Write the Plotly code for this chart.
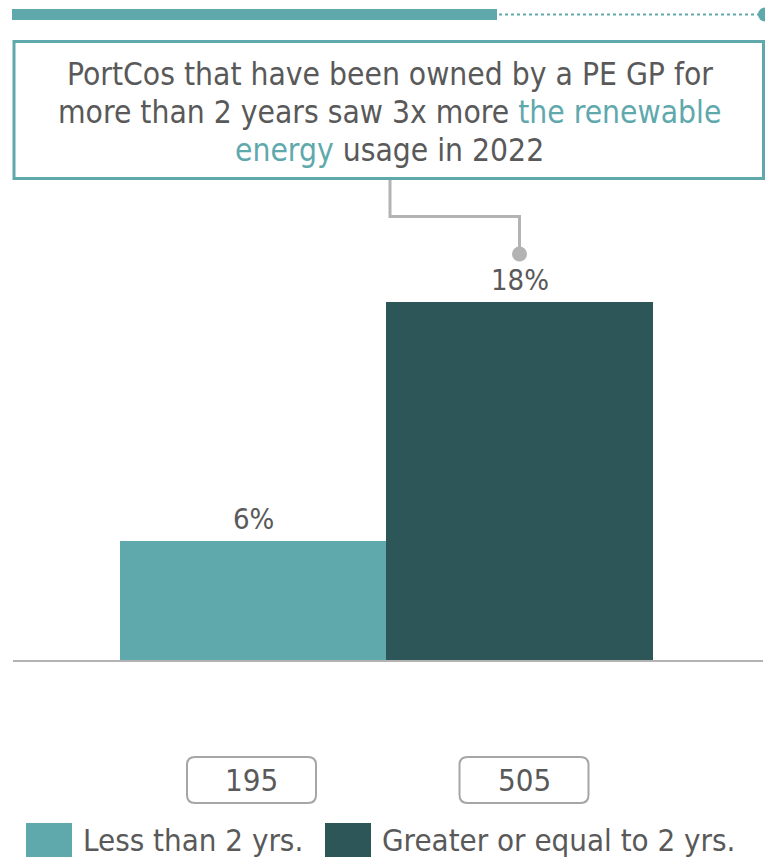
import plotly.graph_objects as go

# ---- data ----
categories = ["Less than 2 yrs.", "Greater or equal to 2 yrs."]
share_pct = [6, 18]
portco_counts = [195, 505]
bar_colors = ["#5FA9AD", "#2D5659"]

headline_lines = [
    "PortCos that have been owned by a PE GP for",
    "more than 2 years saw 3x more <span style='color:#5FA9AD'>the renewable</span>",
    "<span style='color:#5FA9AD'>energy</span> usage in 2022",
]

# ---- canvas ----
W, H = 765, 859
FONT = "DejaVu Sans Condensed, DejaVu Sans, sans-serif"
TEXT = "#595959"
TEAL = "#5FA9AD"
GREY = "#B3B3B3"
BOX_GREY = "#A6A6A6"


def px(x):
    return x / W


def py(y):
    return 1 - y / H


# x axis: category slots of 266.5 px, first centred at 253 px
slot = 266.5
x0_px = 253.0
x_range = [-x0_px / slot, (W - x0_px) / slot]
# y axis: zero at 661 px, ~19.94 px per percentage point
zero_px = 661.0
ppu = 359.0 / 18.0
y_range = [-(H - zero_px) / ppu, zero_px / ppu]

xs = list(range(len(categories)))

fig = go.Figure(go.Bar(
    x=xs, y=share_pct, width=1.0,
    marker=dict(color=bar_colors, line=dict(width=0)),
    showlegend=False, hoverinfo="skip",
))

shapes = []
annotations = []

# progress strip along the top
shapes.append(dict(type="rect", xref="paper", yref="paper",
                   x0=px(12), x1=px(497), y0=py(20), y1=py(9),
                   fillcolor=TEAL, line=dict(width=0)))
shapes.append(dict(type="line", xref="paper", yref="paper",
                   x0=px(499), x1=px(760), y0=py(14.5), y1=py(14.5),
                   line=dict(color=TEAL, width=2, dash="dot")))
shapes.append(dict(type="circle", xref="paper", yref="paper",
                   x0=px(758), x1=px(772), y0=py(21.5), y1=py(7.5),
                   fillcolor=TEAL, line=dict(width=0)))

# headline box
shapes.append(dict(type="rect", xref="paper", yref="paper",
                   x0=px(14), x1=px(763.5), y0=py(178.5), y1=py(41.5),
                   fillcolor="white", line=dict(color=TEAL, width=3)))
for line_text, ly in zip(headline_lines, [74, 112, 150]):
    annotations.append(dict(xref="paper", yref="paper", x=px(389.5), y=py(ly),
                            text=line_text, showarrow=False, align="center",
                            xanchor="center", yanchor="middle",
                            font=dict(family=FONT, size=31.5, color=TEXT)))

# connector from headline box to the taller bar
conn_x = x0_px + slot * 1
path = (f"M {px(390)},{py(180)} L {px(390)},{py(216.5)} "
        f"L {px(conn_x)},{py(216.5)} L {px(conn_x)},{py(252)}")
shapes.append(dict(type="path", xref="paper", yref="paper", path=path,
                   line=dict(color=GREY, width=3)))
shapes.append(dict(type="circle", xref="paper", yref="paper",
                   x0=px(conn_x - 7.5), x1=px(conn_x + 7.5),
                   y0=py(261.5), y1=py(246.5),
                   fillcolor=GREY, line=dict(width=0)))

# baseline
shapes.append(dict(type="line", xref="paper", yref="y",
                   x0=px(13), x1=px(763), y0=0, y1=0,
                   line=dict(color=GREY, width=2)))

# value labels above bars
for i, v in enumerate(share_pct):
    annotations.append(dict(x=i, y=v, xref="x", yref="y", text=f"{v}%",
                            showarrow=False, xanchor="center", yanchor="middle",
                            yshift=22,
                            font=dict(family=FONT, size=29, color=TEXT)))


def rounded_box(xa, xb, ya, yb, r):
    """SVG path (paper coords) for a rounded rectangle given in pixels."""
    return (f"M {px(xa + r)},{py(ya)} L {px(xb - r)},{py(ya)} "
            f"Q {px(xb)},{py(ya)} {px(xb)},{py(ya + r)} "
            f"L {px(xb)},{py(yb - r)} Q {px(xb)},{py(yb)} {px(xb - r)},{py(yb)} "
            f"L {px(xa + r)},{py(yb)} Q {px(xa)},{py(yb)} {px(xa)},{py(yb - r)} "
            f"L {px(xa)},{py(ya + r)} Q {px(xa)},{py(ya)} {px(xa + r)},{py(ya)} Z")


# sample-size boxes under each bar
box_centers = [251.5, 524.0]
box_half = 64.5
for n, cx in zip(portco_counts, box_centers):
    shapes.append(dict(type="path", xref="paper", yref="paper",
                       path=rounded_box(cx - box_half, cx + box_half, 757, 803, 8),
                       fillcolor="white", line=dict(color=BOX_GREY, width=2)))
    annotations.append(dict(x=px(cx), y=py(780), xref="paper", yref="paper",
                            text=str(n), showarrow=False,
                            xanchor="center", yanchor="middle",
                            font=dict(family=FONT, size=31, color=TEXT)))

# legend
legend_x = [26, 325]
for name, col, lx in zip(categories, bar_colors, legend_x):
    shapes.append(dict(type="rect", xref="paper", yref="paper",
                       x0=px(lx), x1=px(lx + 46), y0=py(857), y1=py(823),
                       fillcolor=col, line=dict(width=0)))
    annotations.append(dict(xref="paper", yref="paper", x=px(lx + 55), y=py(840),
                            text=name, showarrow=False,
                            xanchor="left", yanchor="middle",
                            font=dict(family=FONT, size=31, color=TEXT)))

fig.update_layout(
    width=W, height=H,
    margin=dict(l=0, r=0, t=0, b=0, pad=0),
    paper_bgcolor="white", plot_bgcolor="white",
    bargap=0,
    xaxis=dict(range=x_range, visible=False, fixedrange=True, domain=[0, 1]),
    yaxis=dict(range=y_range, visible=False, fixedrange=True, domain=[0, 1]),
    shapes=shapes,
    annotations=annotations,
    font=dict(family=FONT, color=TEXT),
)

fig.write_html("out.html", config={"displayModeBar": False})
